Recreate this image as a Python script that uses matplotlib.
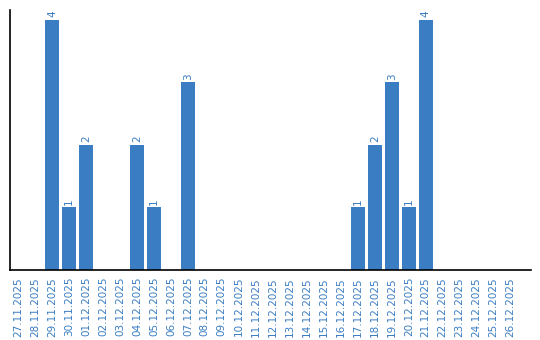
import matplotlib
matplotlib.use("Agg")
import matplotlib.pyplot as plt

# Daily counts
dates = ["27.11.2025", "28.11.2025", "29.11.2025", "30.11.2025", "01.12.2025",
         "02.12.2025", "03.12.2025", "04.12.2025", "05.12.2025", "06.12.2025",
         "07.12.2025", "08.12.2025", "09.12.2025", "10.12.2025", "11.12.2025",
         "12.12.2025", "13.12.2025", "14.12.2025", "15.12.2025", "16.12.2025",
         "17.12.2025", "18.12.2025", "19.12.2025", "20.12.2025", "21.12.2025",
         "22.12.2025", "23.12.2025", "24.12.2025", "25.12.2025", "26.12.2025"]
counts = [0, 0, 4, 1, 2, 0, 0, 2, 1, 0,
          3, 0, 0, 0, 0, 0, 0, 0, 0, 0,
          1, 2, 3, 1, 4, 0, 0, 0, 0, 0]

BLUE = "#3a7dc2"

fig = plt.figure(figsize=(5.4, 3.4), dpi=100)
ax = fig.add_axes([0.0185, 0.206, 0.965, 0.765])

x = range(len(dates))
ax.bar(x, counts, width=0.82, color=BLUE)
for i, v in zip(x, counts):
    if v > 0:
        ax.text(i, v + 0.04, str(v), rotation=90, ha="center", va="bottom",
                fontsize=7.5, color=BLUE)

ax.set_xlim(-0.47, 30.2)
ax.set_ylim(0, 4.16)
ax.set_xticks(list(x))
ax.set_xticklabels(dates, rotation=90, fontsize=7.5, color=BLUE)
ax.tick_params(axis="x", length=0, pad=5)
ax.set_yticks([])
for side in ["top", "right"]:
    ax.spines[side].set_visible(False)
for side in ["left", "bottom"]:
    ax.spines[side].set_linewidth(1.2)

fig.savefig("out.png", dpi=100)
